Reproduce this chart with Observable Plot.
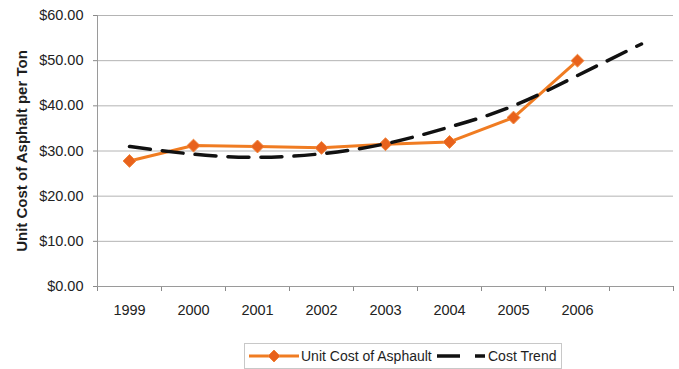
<!DOCTYPE html>
<html>
<head>
<meta charset="utf-8">
<script src="https://cdn.jsdelivr.net/npm/d3@7"></script>
<script src="https://cdn.jsdelivr.net/npm/@observablehq/plot@0.6"></script>
<style>
  body { margin: 0; background: #fff; font-family: "Liberation Sans", Arial, sans-serif; }
  #chart { position: relative; width: 679px; height: 369px; }
  #chart svg.plot { position: absolute; left: 0; top: 0; }
  .legend { position: absolute; left: 244px; top: 343px; width: 316px; height: 24px;
            border: 1px solid #c8c8c8; font-size: 14px; color: #1e1e1e; }
  .legend .item { position: absolute; top: 0; height: 24px; display: flex; align-items: center; }
  .legend svg { display: block; }
</style>
</head>
<body>
<div id="chart"></div>
<script>
// Years on the category axis; the trend runs one period past the last data year
const years = [1999, 2000, 2001, 2002, 2003, 2004, 2005, 2006];
const unitCost = [27.8, 31.2, 31.0, 30.7, 31.5, 32.0, 37.4, 50.0];
const trendYears = [1999, 2000, 2001, 2002, 2003, 2004, 2005, 2006, 2007];
const trendCost = [31.0, 29.3, 28.6, 29.4, 31.6, 35.3, 40.0, 46.7, 53.7];
const yTicks = [0, 10, 20, 30, 40, 50, 60];
const yLabel = "Unit Cost of Asphalt per Ton";
const seriesNames = ["Unit Cost of Asphault", "Cost Trend"];

const orange = "#f07c22";
const diamondFill = "#e8621c";

// category boundaries for the bottom tick marks
const bounds = trendYears.map(y => y - 0.5).concat([trendYears[trendYears.length - 1] + 0.5]);

const chart = Plot.plot({
  width: 679,
  height: 336,
  marginLeft: 97,
  marginRight: 6,
  marginTop: 15,
  marginBottom: 50,
  style: { fontFamily: "Liberation Sans, Arial, sans-serif", fontSize: "14.5px", color: "#222", background: "transparent" },
  x: { domain: [bounds[0], bounds[bounds.length - 1]] },
  y: { domain: [0, 60] },
  marks: [
    Plot.gridY(yTicks, { stroke: "#b4b4b4", strokeOpacity: 1 }),
    Plot.axisY(yTicks, { tickSize: 4, tickPadding: 10, stroke: "#8a8a8a", tickFormat: d => "$" + d.toFixed(2), label: null }),
    Plot.axisX(bounds, { tickSize: 5, stroke: "#8a8a8a", tickFormat: () => "", label: null }),
    Plot.axisX(years, { tickSize: 0, tickPadding: 18, tickFormat: d => String(d), label: null }),
    Plot.ruleX([bounds[0]], { stroke: "#9a9a9a" }),
    Plot.ruleY([0], { stroke: "#9a9a9a" }),
    Plot.text([yLabel], { frameAnchor: "left", textAnchor: "middle", dx: -75, rotate: -90, fontWeight: "bold", fontSize: 15, fill: "#1e1e1e" }),
    Plot.line(unitCost, { x: (d, i) => years[i], y: d => d, stroke: orange, strokeWidth: 3 }),
    Plot.dot(unitCost, { x: (d, i) => years[i], y: d => d, symbol: "diamond2", r: 5.8, fill: diamondFill, stroke: "#f0843a", strokeWidth: 1 }),
    Plot.line(trendCost, { x: (d, i) => trendYears[i], y: d => d, stroke: "#111", strokeWidth: 3.5, strokeDasharray: "21,12", curve: "natural" })
  ]
});
chart.classList.add("plot");
const host = document.getElementById("chart");
host.appendChild(chart);

// legend below the plot
const legend = document.createElement("div");
legend.className = "legend";
legend.innerHTML = `
  <div class="item" style="left:4px">
    <svg width="50" height="14"><line x1="0" y1="7" x2="50" y2="7" stroke="${orange}" stroke-width="3"/>
      <path d="M25,1 L31,7 L25,13 L19,7 Z" fill="${diamondFill}" stroke="#f0843a"/></svg>
    <span style="margin-left:2px">${seriesNames[0]}</span>
  </div>
  <div class="item" style="left:192px">
    <svg width="48" height="14"><line x1="0" y1="7" x2="48" y2="7" stroke="#111" stroke-width="3.5" stroke-dasharray="23,15"/></svg>
    <span style="margin-left:3px">${seriesNames[1]}</span>
  </div>`;
host.appendChild(legend);
</script>
</body>
</html>
